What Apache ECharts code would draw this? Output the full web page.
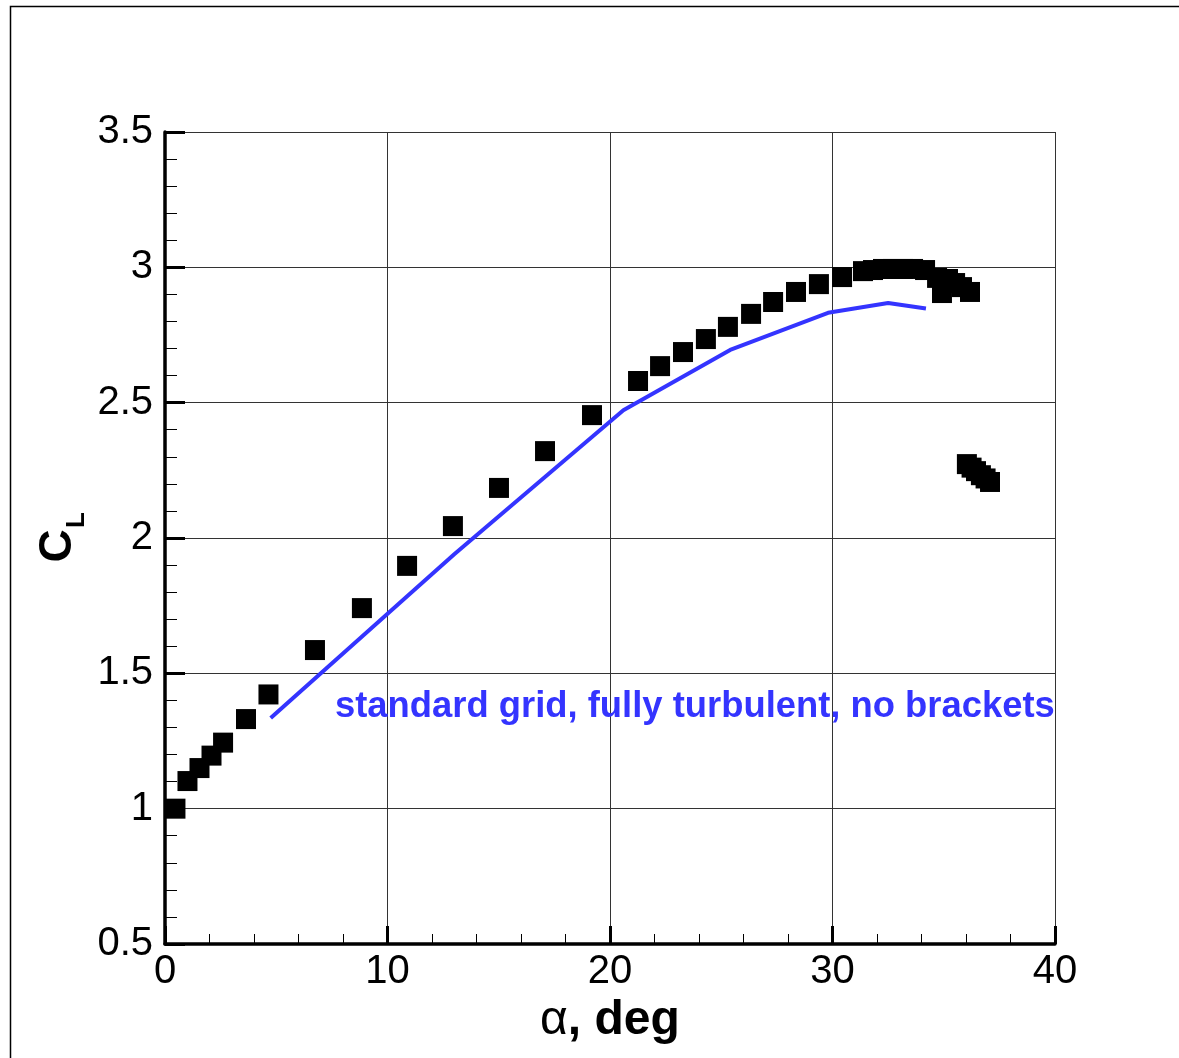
<!DOCTYPE html>
<html>
<head>
<meta charset="utf-8">
<title>CL vs alpha</title>
<script src="https://cdn.jsdelivr.net/npm/echarts@6/dist/echarts.min.js"></script>
<style>
  html, body { margin: 0; padding: 0; background: #fff; }
  #chart { width: 1179px; height: 1058px; }
</style>
</head>
<body>
<div id="chart"></div>
<script>
// Experimental lift coefficient (square symbols)
const alphaExp = [0.47, 1.01, 1.55, 2.09, 2.61, 3.64, 4.65, 6.74, 8.85, 10.88, 12.94, 15.01,
  17.08, 19.19, 21.26, 22.25, 23.28, 24.31, 25.30, 26.34, 27.33, 28.36, 29.39, 30.43,
  31.37, 31.82, 32.27, 32.72, 33.17, 33.62, 34.16, 34.70, 35.19, 34.92, 35.51, 35.82, 36.18,
  36.04, 36.25, 36.45, 36.67, 36.88, 37.08];
const clExp = [1.000, 1.102, 1.150, 1.196, 1.244, 1.331, 1.422, 1.586, 1.741, 1.897, 2.044, 2.185,
  2.321, 2.454, 2.580, 2.635, 2.687, 2.735, 2.780, 2.828, 2.872, 2.909, 2.938, 2.964,
  2.986, 2.990, 2.994, 2.994, 2.994, 2.994, 2.990, 2.961, 2.957, 2.905, 2.942, 2.927, 2.909,
  2.273, 2.260, 2.247, 2.232, 2.220, 2.207];

// Computed lift coefficient (standard grid, fully turbulent, no brackets)
const alphaCfd = [4.75, 13.0, 20.6, 25.4, 29.8, 32.5, 34.2];
const clCfd = [1.335, 1.940, 2.472, 2.695, 2.832, 2.868, 2.848];

const xTicks = [0, 10, 20, 30, 40];
const yTicks = [0.5, 1, 1.5, 2, 2.5, 3, 3.5];

const cfdLabel = 'standard grid, fully turbulent, no brackets';
const blue = '#3434ff';

const chart = echarts.init(document.getElementById('chart'), null, { renderer: 'canvas' });

const expData = alphaExp.map((a, i) => [a, clExp[i]]);
const cfdData = alphaCfd.map((a, i) => [a, clCfd[i]]);

const fmt = v => String(v);

chart.setOption({
  backgroundColor: '#fff',
  animation: false,
  grid: { left: 165, top: 132, right: 124, bottom: 114, containLabel: false },
  xAxis: {
    type: 'value',
    min: xTicks[0], max: xTicks[xTicks.length - 1], interval: 10,
    axisLine: { show: true, onZero: false, lineStyle: { color: '#000', width: 3.5 } },
    axisTick: { show: true, inside: true, length: 18, lineStyle: { color: '#000', width: 3 } },
    minorTick: { show: true, splitNumber: 5, length: 10, lineStyle: { color: '#000', width: 1 } },
    splitLine: { show: true, lineStyle: { color: '#333', width: 1 } },
    axisLabel: {
      color: '#000', fontFamily: 'Liberation Sans', fontSize: 40, margin: 8,
      formatter: fmt
    },
    name: '{a|α}{b|, deg}',
    nameLocation: 'middle',
    nameGap: 48,
    nameTextStyle: {
      rich: {
        a: { fontFamily: 'Liberation Sans', fontSize: 48, color: '#000' },
        b: { fontFamily: 'Liberation Sans', fontSize: 48, fontWeight: 'bold', color: '#000' }
      }
    }
  },
  yAxis: {
    type: 'value',
    min: yTicks[0], max: yTicks[yTicks.length - 1], interval: 0.5,
    axisLine: { show: true, onZero: false, lineStyle: { color: '#000', width: 3.5 } },
    axisTick: { show: true, inside: true, length: 20, lineStyle: { color: '#000', width: 3 } },
    minorTick: { show: true, splitNumber: 5, length: 12, lineStyle: { color: '#000', width: 1 } },
    splitLine: { show: true, lineStyle: { color: '#333', width: 1 } },
    axisLabel: {
      color: '#000', fontFamily: 'Liberation Sans', fontSize: 40, margin: 12,
      padding: [6, 0, 0, 0],
      formatter: fmt
    }
  },
  series: [
    {
      name: 'experiment',
      type: 'scatter',
      data: expData,
      symbol: 'rect',
      symbolSize: 20,
      itemStyle: { color: '#000', opacity: 1 },
      z: 3
    },
    {
      name: 'cfd',
      type: 'line',
      data: cfdData,
      showSymbol: false,
      symbol: 'none',
      lineStyle: { color: blue, width: 4 },
      z: 4
    }
  ],
  graphic: [
    {
      type: 'rect',
      shape: { x: 10.5, y: 6.5, width: 1300, height: 1200 },
      style: { fill: 'none', stroke: '#000', lineWidth: 1.5 },
      silent: true
    },
    {
      type: 'text',
      x: 81, y: 546,
      rotation: Math.PI / 2,
      style: {
        text: 'C', fontFamily: 'Liberation Sans', fontSize: 46, fontWeight: 'bold',
        fill: '#000', align: 'center', verticalAlign: 'bottom'
      }
    },
    {
      type: 'text',
      x: 90, y: 520,
      rotation: Math.PI / 2,
      style: {
        text: 'L', fontFamily: 'Liberation Sans', fontSize: 26, fontWeight: 'bold',
        fill: '#000', align: 'center', verticalAlign: 'bottom'
      }
    },
    {
      type: 'text',
      left: 335, top: 689,
      style: {
        text: cfdLabel, fontFamily: 'Liberation Sans', fontSize: 36.4, fontWeight: 'bold',
        fill: blue
      },
      z: 10
    }
  ]
});
</script>
</body>
</html>
